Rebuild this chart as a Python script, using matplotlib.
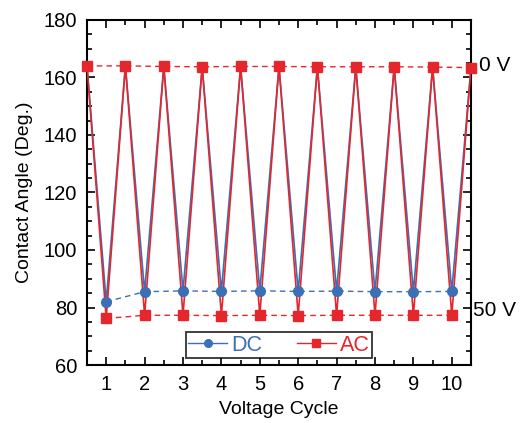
import matplotlib
matplotlib.use("Agg")
import matplotlib.pyplot as plt
from matplotlib.ticker import MultipleLocator

plt.rcParams['font.family'] = ['Liberation Sans', 'DejaVu Sans']

# Data
x_high = [0.5, 1.5, 2.5, 3.5, 4.5, 5.5, 6.5, 7.5, 8.5, 9.5, 10.5]
x_low = [1, 2, 3, 4, 5, 6, 7, 8, 9, 10]
ac_high = [164, 164, 163.8, 163.7, 163.8, 163.8, 163.7, 163.7, 163.7, 163.6, 163.4]
ac_low = [76.2, 77.3, 77.3, 77.2, 77.3, 77.2, 77.3, 77.3, 77.3, 77.3]
dc_high = [164, 164, 163.8, 163.7, 163.8, 163.8, 163.7, 163.7, 163.7, 163.6, 163.4]
dc_low = [82.0, 85.5, 85.8, 85.6, 85.8, 85.6, 85.7, 85.5, 85.5, 85.6]
x_ticks = [1, 2, 3, 4, 5, 6, 7, 8, 9, 10]

red = '#e5262c'
blue = '#3b6fb6'

def zigzag(xh, yh, xl, yl):
    xs, ys = [], []
    for i in range(len(xl)):
        xs += [xh[i], xl[i]]
        ys += [yh[i], yl[i]]
    xs.append(xh[-1]); ys.append(yh[-1])
    return xs, ys

fig = plt.figure(figsize=(5.21, 4.23), dpi=100)
ax = fig.add_axes([0.167, 0.137, 0.737, 0.816])

# DC zigzag (slightly behind)
zx, zy = zigzag(x_high, dc_high, x_low, dc_low)
ax.plot(zx, zy, color=blue, lw=1.2, zorder=2)
ax.plot(x_low, dc_low, ls=(0, (4, 3)), color=blue, lw=1.0, zorder=2)
ax.plot(x_low, dc_low, ls='none', marker='o', ms=7, color=blue, zorder=4)

# AC zigzag
zx, zy = zigzag(x_high, ac_high, x_low, ac_low)
ax.plot(zx, zy, color=red, lw=1.2, zorder=3)
ax.plot(x_high, ac_high, ls=(0, (4, 3)), color=red, lw=1.0, zorder=3)
ax.plot(x_low, ac_low, ls=(0, (4, 3)), color=red, lw=1.0, zorder=3)
ax.plot(x_high, ac_high, ls='none', marker='s', ms=7.5, color=red, zorder=5, clip_on=False)
ax.plot(x_low, ac_low, ls='none', marker='s', ms=7.5, color=red, zorder=5)

# legend proxies
l1, = ax.plot([], [], color=blue, marker='o', ms=5.5, lw=1.0, label='DC')
l2, = ax.plot([], [], color=red, marker='s', ms=6, lw=1.0, label='AC')
leg = ax.legend(handles=[l1, l2], loc='lower center', ncol=2, fontsize=15.5,
                frameon=True, fancybox=False, edgecolor='black',
                bbox_to_anchor=(0.5, 0.02), borderaxespad=0,
                handlelength=1.8, columnspacing=1.6,
                borderpad=0.12, handletextpad=0.2)
leg.get_frame().set_linewidth(1.3)
for t, c in zip(leg.get_texts(), [blue, red]):
    t.set_color(c)

ax.set_xlim(0.5, 10.5)
ax.set_ylim(60, 180)
ax.set_xticks(x_ticks)
ax.xaxis.set_minor_locator(MultipleLocator(0.5))
ax.yaxis.set_major_locator(MultipleLocator(20))
ax.yaxis.set_minor_locator(MultipleLocator(5))
ax.tick_params(which='both', direction='in', top=True, right=True, width=1.2)
ax.tick_params(which='major', length=6, labelsize=14.5, pad=7)
ax.tick_params(which='minor', length=3.5)
for s in ax.spines.values():
    s.set_linewidth(1.5)

ax.set_xlabel('Voltage Cycle', fontsize=14, labelpad=5)
ax.set_ylabel('Contact Angle (Deg.)', fontsize=14, labelpad=8)

ax.text(1.022, 164, '0 V', transform=ax.get_yaxis_transform(), fontsize=15,
        va='center', ha='left')
ax.text(1.006, 79, '50 V', transform=ax.get_yaxis_transform(), fontsize=15,
        va='center', ha='left')

fig.savefig('out.png', dpi=100)
